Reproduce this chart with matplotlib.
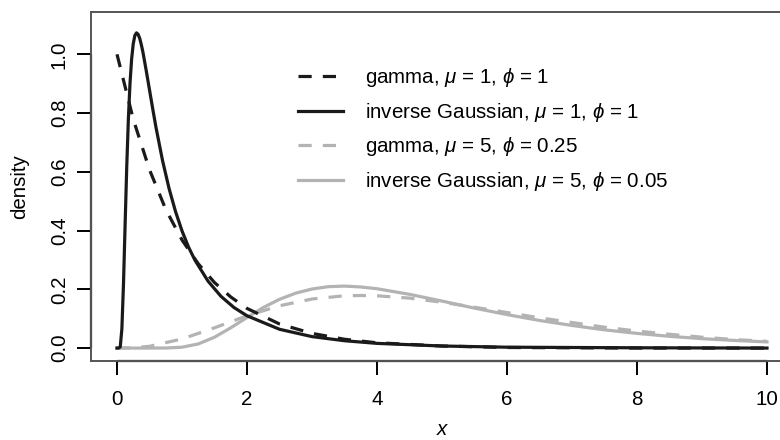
import matplotlib
matplotlib.use('Agg')
import matplotlib.pyplot as plt
from matplotlib.lines import Line2D

plt.rcParams['font.family'] = ['Liberation Sans', 'DejaVu Sans']
plt.rcParams['font.size'] = 14.8
plt.rcParams['mathtext.fontset'] = 'custom'
plt.rcParams['mathtext.rm'] = 'Liberation Sans'
plt.rcParams['mathtext.it'] = 'Liberation Sans:italic'
plt.rcParams['mathtext.fallback'] = 'stixsans'
plt.rcParams['lines.scale_dashes'] = False

# values
gamma1_x = [0, 0.25, 0.5, 0.75, 1, 1.25, 1.5, 1.75, 2, 2.5, 3, 3.5, 4, 5, 6, 7, 8, 9, 10]
gamma1_y = [1.0, 0.779, 0.607, 0.472, 0.368, 0.287, 0.223, 0.174, 0.135, 0.082,
            0.050, 0.030, 0.018, 0.007, 0.002, 0.001, 0.0, 0.0, 0.0]

ig1_x = [0, 0.025, 0.05, 0.075, 0.1, 0.125, 0.15, 0.175, 0.2, 0.225, 0.25, 0.275,
         0.3, 0.325, 0.35, 0.375, 0.4, 0.45, 0.5, 0.55, 0.6, 0.7, 0.8, 0.9, 1.0,
         1.1, 1.2, 1.4, 1.6, 1.8, 2.0, 2.5, 3, 3.5, 4, 5, 6, 7, 8, 10]
ig1_y = [0, 0.0, 0.004, 0.065, 0.220, 0.422, 0.618, 0.780, 0.901, 0.984, 1.036,
         1.064, 1.073, 1.068, 1.054, 1.032, 1.006, 0.944, 0.879, 0.814, 0.751,
         0.639, 0.544, 0.465, 0.399, 0.344, 0.299, 0.228, 0.176, 0.138, 0.110,
         0.064, 0.039, 0.025, 0.016, 0.007, 0.003, 0.002, 0.001, 0.0]

gamma2_x = [0, 0.25, 0.5, 1, 1.5, 2, 2.5, 3, 3.5, 3.75, 4, 4.5, 5, 5.5, 6, 6.5, 7,
            7.5, 8, 8.5, 9, 9.5, 10]
gamma2_y = [0, 0.001, 0.006, 0.031, 0.069, 0.110, 0.144, 0.167, 0.178, 0.179, 0.178,
            0.170, 0.156, 0.139, 0.121, 0.103, 0.087, 0.071, 0.058, 0.047, 0.037,
            0.029, 0.023]

ig2_x = [0, 0.5, 0.75, 1, 1.25, 1.5, 1.75, 2, 2.25, 2.5, 2.75, 3, 3.25, 3.5, 3.75,
         4, 4.5, 5, 5.5, 6, 6.5, 7, 7.5, 8, 8.5, 9, 9.5, 10]
ig2_y = [0, 0, 0.0002, 0.003, 0.014, 0.037, 0.069, 0.104, 0.138, 0.166, 0.187,
         0.201, 0.209, 0.211, 0.208, 0.202, 0.183, 0.160, 0.136, 0.114, 0.094,
         0.077, 0.062, 0.050, 0.040, 0.032, 0.026, 0.021]

labels = [r'gamma, $\mu$ = 1, $\phi$ = 1',
          r'inverse Gaussian, $\mu$ = 1, $\phi$ = 1',
          r'gamma, $\mu$ = 5, $\phi$ = 0.25',
          r'inverse Gaussian, $\mu$ = 5, $\phi$ = 0.05']

xticks = [0, 2, 4, 6, 8, 10]
yticks = [0.0, 0.2, 0.4, 0.6, 0.8, 1.0]

black = '#1a1a1a'
grey = '#b3b3b3'
dash = (9.5, 8)
lw = 2.3

fig = plt.figure(figsize=(7.8, 4.4), dpi=100)
ax = fig.add_axes([91 / 780, 79 / 440, 702 / 780, 349 / 440])

ax.plot(ig2_x, ig2_y, color=grey, lw=lw)
ax.plot(gamma2_x, gamma2_y, color=grey, lw=lw, dashes=dash)
ax.plot(ig1_x, ig1_y, color=black, lw=lw)
ax.plot(gamma1_x, gamma1_y, color=black, lw=lw, dashes=dash)

ax.set_xlim(-0.4, 10.4)
ax.set_ylim(-0.044, 1.144)

for s in ax.spines.values():
    s.set_color('#555555')
    s.set_linewidth(1.4)
# R style axis lines running from first to last tick
ax.plot([0, 10], [-0.044, -0.044], color='black', lw=1.6, clip_on=False, solid_capstyle='butt')
ax.plot([-0.4, -0.4], [0, 1.0], color='black', lw=1.6, clip_on=False, solid_capstyle='butt')

ax.set_xticks(xticks)
ax.set_xticklabels([str(t) for t in xticks])
ax.set_yticks(yticks)
ax.set_yticklabels(['%.1f' % t for t in yticks])
ax.tick_params(axis='both', direction='out', length=10, width=1.4, color='black')
ax.tick_params(axis='x', pad=11)
ax.tick_params(axis='y', pad=6, labelrotation=90)
for t in ax.get_yticklabels():
    t.set_va('center')

fig.text(442 / 780, 5 / 440, 'x', style='italic', ha='center', va='baseline')
fig.text(20 / 780, 253 / 440, 'density', rotation=90, ha='center', va='center')

handles = [Line2D([], [], color=black, lw=lw, dashes=dash),
           Line2D([], [], color=black, lw=lw),
           Line2D([], [], color=grey, lw=lw, dashes=dash),
           Line2D([], [], color=grey, lw=lw)]
ax.legend(handles, labels, loc='upper left', bbox_to_anchor=(298 / 780, 1 - 66 / 440),
          bbox_transform=fig.transFigure, frameon=False, borderpad=0, borderaxespad=0,
          handlelength=2.2, handletextpad=1.07, labelspacing=0.57)

fig.savefig('out.png', dpi=100)
